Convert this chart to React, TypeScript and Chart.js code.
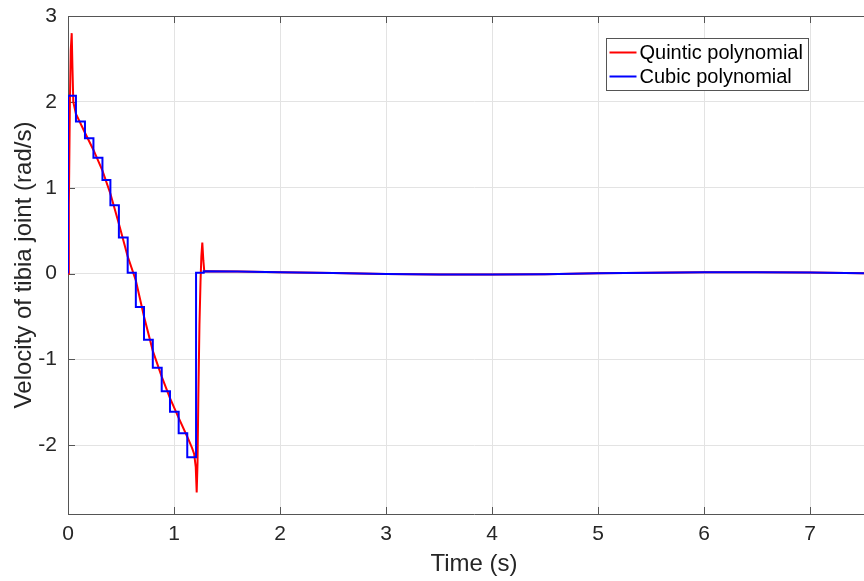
import React, { useEffect, useRef } from "react";
import { Chart, registerables } from "chart.js";

Chart.register(...registerables);

// Quintic polynomial trajectory: joint velocity samples (s, rad/s)
const quinticTime = [
  0, 0.008, 0.018, 0.026, 0.035, 0.042, 0.05, 0.075, 0.16, 0.24, 0.325, 0.4,
  0.48, 0.563, 0.64, 0.717, 0.8, 0.884, 0.962, 1.044, 1.125, 1.17, 1.19, 1.205,
  1.214, 1.222, 1.23, 1.24, 1.25, 1.258, 1.267, 1.277, 1.286, 1.3, 1.6, 2.0,
  2.5, 3.0, 3.5, 4.0, 4.5, 5.0, 5.5, 6.0, 6.5, 7.0, 7.5, 7.7,
];
const quinticVelocity = [
  0, 0.8, 2.0, 2.6, 2.8, 2.4, 2.0, 1.86, 1.64, 1.44, 1.2, 0.93,
  0.58, 0.2, -0.08, -0.5, -0.9, -1.2, -1.45, -1.68, -1.9, -2.03, -2.1, -2.25,
  -2.55, -2.2, -1.4, -0.6, -0.1, 0.2, 0.36, 0.15, 0.02, 0.026, 0.024, 0.016,
  0.006, -0.004, -0.01, -0.012, -0.007, 0.004, 0.01, 0.015, 0.015, 0.012, 0.004, 0.0,
];

// Cubic polynomial trajectory: piecewise-held velocity (s, rad/s)
const cubicTime = [
  0, 0, 0.075, 0.075, 0.16, 0.16, 0.24, 0.24, 0.325, 0.325, 0.4, 0.4,
  0.48, 0.48, 0.563, 0.563, 0.64, 0.64, 0.717, 0.717, 0.8, 0.8, 0.884, 0.884,
  0.962, 0.962, 1.044, 1.044, 1.125, 1.125, 1.208, 1.208, 1.277, 1.28, 1.6, 2.0,
  2.5, 3.0, 3.5, 4.0, 4.5, 5.0, 5.5, 6.0, 6.5, 7.0, 7.5, 7.7,
];
const cubicVelocity = [
  0, 2.07, 2.07, 1.77, 1.77, 1.575, 1.575, 1.35, 1.35, 1.09, 1.09, 0.795,
  0.795, 0.42, 0.42, 0.01, 0.01, -0.39, -0.39, -0.77, -0.77, -1.096, -1.096, -1.37,
  -1.37, -1.61, -1.61, -1.86, -1.86, -2.14, -2.14, 0.01, 0.01, 0.027, 0.024, 0.016,
  0.006, -0.004, -0.01, -0.012, -0.007, 0.004, 0.01, 0.015, 0.015, 0.012, 0.004, 0.0,
];

const xTickValues = [0, 1, 2, 3, 4, 5, 6, 7];
const yTickValues = [-2, -1, 0, 1, 2, 3];
const seriesNames = ["Quintic polynomial", "Cubic polynomial"];
const seriesColors = ["#ff0000", "#0000ff"];
const xTitle = "Time (s)";
const yTitle = "Velocity of tibia joint (rad/s)";

const FONT = "'Liberation Sans', Arial, Helvetica, sans-serif";
const TEXT = "#262626";
const AXIS = "#555555";
const GRID = "#e3e3e3";

const toPoints = (xs: number[], ys: number[]) => xs.map((x, i) => ({ x, y: ys[i] }));

// Top edge of the box plus inward tick marks on the left, bottom and top edges
const framePlugin = {
  id: "frame",
  beforeDatasetsDraw(chart: any) {
    const { ctx, chartArea, scales } = chart;
    const { left, right, top, bottom } = chartArea;
    const len = 7;
    ctx.save();
    ctx.strokeStyle = AXIS;
    ctx.lineWidth = 1;
    ctx.beginPath();
    ctx.moveTo(left, Math.round(top) + 0.5);
    ctx.lineTo(right, Math.round(top) + 0.5);
    scales.x.ticks.forEach((t: any) => {
      const px = Math.round(scales.x.getPixelForValue(t.value)) + 0.5;
      ctx.moveTo(px, bottom);
      ctx.lineTo(px, bottom - len);
      ctx.moveTo(px, top);
      ctx.lineTo(px, top + len);
    });
    scales.y.ticks.forEach((t: any) => {
      const py = Math.round(scales.y.getPixelForValue(t.value)) + 0.5;
      ctx.moveTo(left, py);
      ctx.lineTo(left + len, py);
    });
    ctx.stroke();
    ctx.restore();
  },
};

// Boxed legend in the upper right of the plot area
const legendPlugin = {
  id: "boxLegend",
  afterDraw(chart: any) {
    const { ctx } = chart;
    const x = 606.5;
    const y = 38.5;
    const w = 202;
    const h = 52;
    ctx.save();
    ctx.fillStyle = "#ffffff";
    ctx.fillRect(x, y, w, h);
    ctx.strokeStyle = AXIS;
    ctx.lineWidth = 1;
    ctx.strokeRect(x, y, w, h);
    ctx.font = `20px ${FONT}`;
    ctx.textBaseline = "middle";
    ctx.textAlign = "left";
    seriesNames.forEach((name, i) => {
      const ly = y + 14 + i * 24;
      ctx.strokeStyle = seriesColors[i];
      ctx.lineWidth = 2;
      ctx.beginPath();
      ctx.moveTo(x + 3, ly);
      ctx.lineTo(x + 30, ly);
      ctx.stroke();
      ctx.fillStyle = "#000000";
      ctx.fillText(name, x + 33, ly + 1);
    });
    ctx.restore();
  },
};

export default function App() {
  const canvasRef = useRef<HTMLCanvasElement | null>(null);

  useEffect(() => {
    document.body.style.margin = "0";
    const canvas = canvasRef.current;
    if (!canvas) return;
    const chart = new Chart(canvas, {
      type: "line",
      data: {
        datasets: [
          {
            label: seriesNames[0],
            data: toPoints(quinticTime, quinticVelocity),
            borderColor: seriesColors[0],
            borderWidth: 2,
            pointRadius: 0,
            tension: 0,
            order: 1,
          },
          {
            label: seriesNames[1],
            data: toPoints(cubicTime, cubicVelocity),
            borderColor: seriesColors[1],
            borderWidth: 2,
            pointRadius: 0,
            tension: 0,
            order: 0,
          },
        ],
      },
      options: {
        responsive: false,
        animation: false,
        parsing: false,
        layout: { padding: { top: 16, right: 0, left: 0, bottom: 0 } },
        plugins: {
          legend: { display: false },
          tooltip: { enabled: false },
        },
        scales: {
          x: {
            type: "linear",
            min: 0,
            max: 7.66,
            afterBuildTicks: (s: any) => {
              s.ticks = xTickValues.map((value) => ({ value }));
            },
            afterFit: (s: any) => {
              s.height = 67;
              s.paddingLeft = 0;
              s.paddingRight = 0;
            },
            ticks: {
              color: TEXT,
              font: { family: FONT, size: 21 },
              padding: 8,
              maxRotation: 0,
              autoSkip: false,
            },
            grid: { color: GRID, drawTicks: false },
            border: { color: AXIS, width: 1 },
            title: {
              display: true,
              text: xTitle,
              color: TEXT,
              font: { family: FONT, size: 24 },
              padding: { top: 0, bottom: 2 },
            },
          },
          y: {
            type: "linear",
            min: -2.8,
            max: 3,
            afterBuildTicks: (s: any) => {
              s.ticks = yTickValues.map((value) => ({ value }));
            },
            afterFit: (s: any) => {
              s.width = 68;
              s.paddingTop = 0;
              s.paddingBottom = 0;
            },
            ticks: {
              color: TEXT,
              font: { family: FONT, size: 21 },
              padding: 11,
            },
            grid: { color: GRID, drawTicks: false },
            border: { color: AXIS, width: 1 },
            title: {
              display: true,
              text: yTitle,
              color: TEXT,
              font: { family: FONT, size: 24 },
              padding: { top: 10, bottom: 0 },
            },
          },
        },
      },
      plugins: [framePlugin, legendPlugin],
    });
    return () => chart.destroy();
  }, []);

  return (
    <div style={{ width: 864, height: 581, overflow: "hidden", background: "#ffffff" }}>
      <canvas ref={canvasRef} width={880} height={581} style={{ display: "block" }} />
    </div>
  );
}
